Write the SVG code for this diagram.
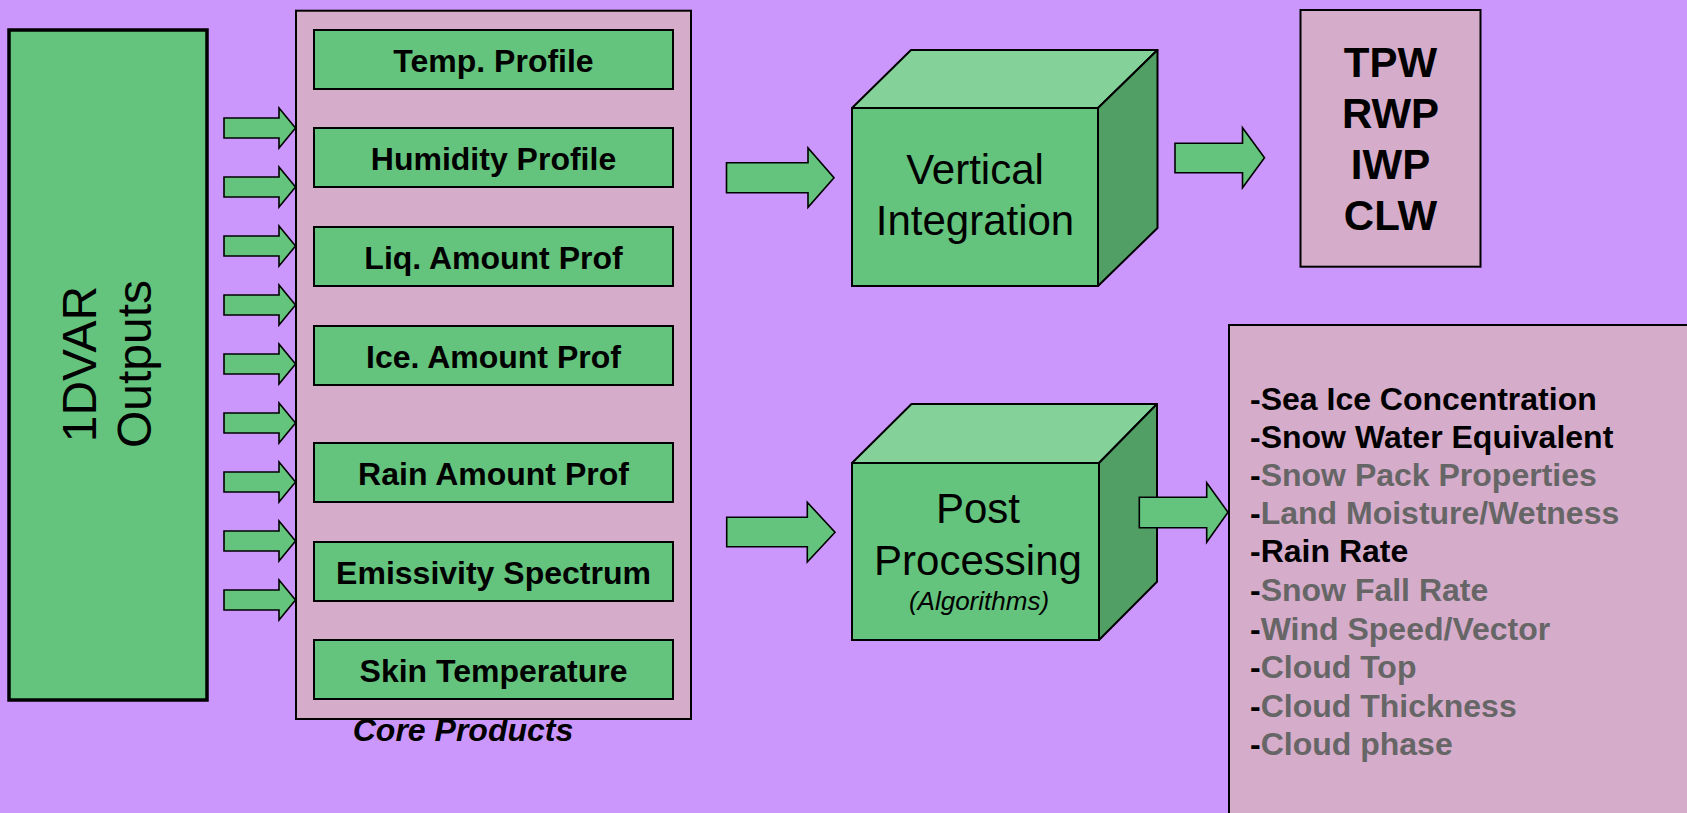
<svg xmlns="http://www.w3.org/2000/svg" width="1687" height="813" viewBox="0 0 1687 813">
  <style>
    text { font-family: "Liberation Sans", Arial, sans-serif; fill: #000; }
    .green { fill: #64C47D; stroke: #000; stroke-width: 2; }
    .panel { fill: #D6ACCB; stroke: #000; stroke-width: 2; }
    .top { fill: #84D19A; stroke: #000; stroke-width: 2; stroke-linejoin: round; }
    .side { fill: #529F66; stroke: #000; stroke-width: 2; stroke-linejoin: round; }
    .arrow { fill: #64C47D; stroke: #000; stroke-width: 1.6; stroke-linejoin: miter; }
    .item { font-size: 32px; font-weight: bold; text-anchor: middle; }
    .big { font-size: 42px; text-anchor: middle; }
    .code { font-size: 42px; font-weight: bold; text-anchor: middle; }
    .list { font-size: 32px; font-weight: bold; }
    .dim { fill: #666666; }
  </style>
  <defs>
    <!-- small block arrow, tip at origin-relative (71.5,0) -->
    <path id="feed" class="arrow" d="M0,-10 H55 V-20 L71.5,0 L55,20 V10 H0 Z"/>
  </defs>

  <rect width="1687" height="813" fill="#CC97FD"/>

  <!-- retrieval outputs -->
  <g id="node-1dvar">
    <rect x="9" y="30" width="198" height="670" fill="#64C47D" stroke="#000" stroke-width="3.5"/>
    <text transform="translate(96,364) rotate(-90)" font-size="48" text-anchor="middle">1DVAR</text>
    <text transform="translate(151,364) rotate(-90)" font-size="48" text-anchor="middle">Outputs</text>
  </g>

  <!-- core products panel -->
  <g id="node-core">
    <rect class="panel" x="296" y="10.7" width="395" height="708.3"/>
    <text x="463" y="741" font-size="32" font-weight="bold" font-style="italic" text-anchor="middle">Core Products</text>
  </g>
  <g id="node-temp">
    <rect class="green" x="314" y="30" width="359" height="59"/>
    <text class="item" x="493.5" y="71.5">Temp. Profile</text>
  </g>
  <g id="node-humidity">
    <rect class="green" x="314" y="128" width="359" height="59"/>
    <text class="item" x="493.5" y="169.5">Humidity Profile</text>
  </g>
  <g id="node-liquid">
    <rect class="green" x="314" y="227" width="359" height="59"/>
    <text class="item" x="493.5" y="268.5">Liq. Amount Prof</text>
  </g>
  <g id="node-ice">
    <rect class="green" x="314" y="326" width="359" height="59"/>
    <text class="item" x="493.5" y="367.5">Ice. Amount Prof</text>
  </g>
  <g id="node-rain">
    <rect class="green" x="314" y="443" width="359" height="59"/>
    <text class="item" x="493.5" y="484.5">Rain Amount Prof</text>
  </g>
  <g id="node-emissivity">
    <rect class="green" x="314" y="542" width="359" height="59"/>
    <text class="item" x="493.5" y="583.5">Emissivity Spectrum</text>
  </g>
  <g id="node-skin">
    <rect class="green" x="314" y="640" width="359" height="59"/>
    <text class="item" x="493.5" y="681.5">Skin Temperature</text>
  </g>

  <!-- vertical integration block -->
  <g id="node-vertical">
    <polygon class="top" points="852,108 911,50 1157.5,50 1098,108"/>
    <polygon class="side" points="1098,108 1157.5,50 1157.5,228 1098,286"/>
    <rect class="green" x="852" y="108" width="246" height="178"/>
    <text class="big" x="975" y="184">Vertical</text>
    <text class="big" x="975" y="235">Integration</text>
  </g>

  <!-- integrated water products -->
  <g id="node-tpw">
    <rect class="panel" x="1300.5" y="10" width="180" height="256.7"/>
    <text class="code" x="1390.5" y="77">TPW</text>
    <text class="code" x="1390.5" y="128">RWP</text>
    <text class="code" x="1390.5" y="179">IWP</text>
    <text class="code" x="1390.5" y="230">CLW</text>
  </g>

  <!-- post processing block -->
  <g id="node-post">
    <polygon class="top" points="852,463 911.5,404 1157,404 1099,463"/>
    <polygon class="side" points="1099,463 1157,404 1157,581.7 1099,640"/>
    <rect class="green" x="852" y="463" width="247" height="177"/>
    <text class="big" x="978" y="523">Post</text>
    <text class="big" x="978" y="575">Processing</text>
    <text x="979" y="610" font-size="26" font-style="italic" text-anchor="middle">(Algorithms)</text>
  </g>

  <!-- derived products list -->
  <g id="node-derived">
    <rect class="panel" x="1229" y="325" width="480" height="510"/>
    <text class="list" x="1250" y="410">-Sea Ice Concentration</text>
    <text class="list" x="1250" y="448">-Snow Water Equivalent</text>
    <text class="list" x="1250" y="486">-<tspan class="dim">Snow Pack Properties</tspan></text>
    <text class="list" x="1250" y="524">-<tspan class="dim">Land Moisture/Wetness</tspan></text>
    <text class="list" x="1250" y="562">-Rain Rate</text>
    <text class="list" x="1250" y="601">-<tspan class="dim">Snow Fall Rate</tspan></text>
    <text class="list" x="1250" y="640">-<tspan class="dim">Wind Speed/Vector</tspan></text>
    <text class="list" x="1250" y="678">-<tspan class="dim">Cloud Top</tspan></text>
    <text class="list" x="1250" y="717">-<tspan class="dim">Cloud Thickness</tspan></text>
    <text class="list" x="1250" y="755">-<tspan class="dim">Cloud phase</tspan></text>
  </g>

  <!-- block arrows -->
  <g id="connectors">
    <use href="#feed" x="224" y="128"/>
    <use href="#feed" x="224" y="187"/>
    <use href="#feed" x="224" y="246"/>
    <use href="#feed" x="224" y="305"/>
    <use href="#feed" x="224" y="364"/>
    <use href="#feed" x="224" y="423"/>
    <use href="#feed" x="224" y="482"/>
    <use href="#feed" x="224" y="541"/>
    <use href="#feed" x="224" y="600"/>
    <path class="arrow" d="M726.5,162.7 H808 V148 L834,177.7 L808,207.3 V192.7 H726.5 Z"/>
    <path class="arrow" d="M1175,143.3 H1242.5 V127.7 L1264.5,157.7 L1242.5,187.7 V172.7 H1175 Z"/>
    <path class="arrow" d="M726.7,517.3 H807.3 V502.3 L835,532.3 L807.3,562 V546.7 H726.7 Z"/>
    <path class="arrow" d="M1139.3,497.3 H1206.7 V482.7 L1228,512.3 L1206.7,542.3 V527.7 H1139.3 Z"/>
  </g>
</svg>
